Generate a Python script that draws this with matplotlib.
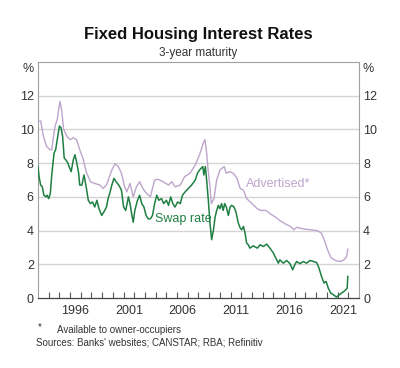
import matplotlib
matplotlib.use("Agg")
import matplotlib.pyplot as plt
import numpy as np

plt.rcParams['font.family'] = ['Liberation Sans', 'DejaVu Sans']

# Advertised 3-year fixed housing rate (%), decimal years
adv_years = [1993.0, 1993.25, 1993.5, 1993.8, 1994.1, 1994.3, 1994.4, 1994.6, 1994.8, 1995.05,
             1995.2, 1995.4, 1995.7, 1996.0, 1996.3, 1996.6, 1996.9, 1997.2, 1997.5, 1997.9,
             1998.3, 1998.8, 1999.1, 1999.4, 1999.9, 2000.2, 2000.5, 2000.8, 2001.1, 2001.3,
             2001.6, 2001.9, 2002.2, 2002.5, 2002.8, 2003.15, 2003.5, 2003.9, 2004.2, 2004.7,
             2005.2, 2005.5, 2005.8, 2006.3, 2006.7, 2007.2, 2007.7, 2008.1, 2008.45, 2008.6,
             2008.76, 2008.9, 2009.07, 2009.2, 2009.45, 2009.7, 2010.0, 2010.4, 2010.6, 2010.9,
             2011.25, 2011.6, 2011.9, 2012.2, 2012.5, 2013.0, 2013.5, 2013.8, 2014.3, 2014.7,
             2015.2, 2015.6, 2016.1, 2016.6, 2016.9, 2017.2, 2017.8, 2018.5, 2019.1, 2019.5,
             2019.8, 2020.1, 2020.4, 2020.9, 2021.3, 2021.6, 2021.85, 2021.95]
adv_values = [10.5, 10.5, 9.6, 9.0, 8.8, 8.8, 9.4, 10.2, 10.6, 11.66,
              11.2, 10.0, 9.6, 9.4, 9.5, 9.4, 8.8, 8.3, 7.5, 6.9,
              6.8, 6.7, 6.5, 6.7, 7.6, 7.96, 7.8, 7.4, 6.6, 6.3,
              6.8, 6.0, 6.6, 6.9, 6.5, 6.2, 6.0, 7.0, 7.05, 6.9,
              6.7, 6.9, 6.6, 6.7, 7.2, 7.4, 7.9, 8.5, 9.2, 9.4,
              8.6, 7.6, 6.6, 5.6, 5.9, 7.0, 7.6, 7.8, 7.4, 7.5,
              7.4, 7.1, 6.5, 6.4, 5.9, 5.6, 5.3, 5.2, 5.2, 5.0,
              4.8, 4.6, 4.4, 4.25, 4.05, 4.2, 4.1, 4.05, 4.0, 3.85,
              3.36, 2.8, 2.37, 2.2, 2.17, 2.27, 2.47, 2.9]

# 3-year swap rate (%)
swap_years = [1993.0, 1993.1, 1993.25, 1993.4, 1993.55, 1993.75, 1993.85, 1994.0, 1994.15, 1994.3,
              1994.5, 1994.65, 1994.8, 1995.0, 1995.15, 1995.3, 1995.45, 1995.6, 1995.8, 1995.9,
              1996.1, 1996.3, 1996.45, 1996.6, 1996.8, 1996.9, 1997.1, 1997.3, 1997.5, 1997.7,
              1997.9, 1998.1, 1998.3, 1998.5, 1998.7, 1998.95, 1999.15, 1999.4, 1999.55, 1999.7,
              1999.9, 2000.1, 2000.3, 2000.55, 2000.8, 2001.0, 2001.2, 2001.45, 2001.6, 2001.75,
              2001.9, 2002.05, 2002.3, 2002.5, 2002.7, 2002.9, 2003.1, 2003.3, 2003.5, 2003.7,
              2003.9, 2004.1, 2004.3, 2004.55, 2004.75, 2005.0, 2005.2, 2005.4, 2005.6, 2005.8,
              2006.05, 2006.3, 2006.5, 2006.75, 2007.05, 2007.35, 2007.7, 2007.9, 2008.1, 2008.4,
              2008.5, 2008.64, 2008.76, 2008.92, 2009.07, 2009.23, 2009.4, 2009.55, 2009.7, 2009.85,
              2010.0, 2010.16, 2010.3, 2010.45, 2010.6, 2010.79, 2010.95, 2011.1, 2011.32, 2011.5,
              2011.72, 2011.9, 2012.03, 2012.2, 2012.35, 2012.5, 2012.66, 2012.8, 2013.12, 2013.5,
              2013.75, 2014.06, 2014.37, 2014.68, 2015.0, 2015.3, 2015.46, 2015.6, 2015.93, 2016.24,
              2016.55, 2016.8, 2017.0, 2017.17, 2017.48, 2017.8, 2018.1, 2018.42, 2018.73, 2019.04,
              2019.26, 2019.5, 2019.73, 2019.92, 2020.13, 2020.35, 2020.6, 2020.9, 2021.16, 2021.38,
              2021.6, 2021.78, 2021.9, 2021.95]
swap_values = [7.8, 7.2, 6.7, 6.6, 6.1, 6.0, 6.1, 5.9, 6.2, 7.4,
               8.6, 8.8, 9.4, 10.2, 10.1, 9.6, 8.3, 8.2, 8.0, 7.8,
               7.5, 8.2, 8.5, 8.1, 7.4, 6.7, 6.7, 7.3, 6.6, 5.8,
               5.6, 5.7, 5.4, 5.8, 5.3, 4.9, 5.1, 5.4, 5.9, 6.2,
               6.7, 7.1, 6.9, 6.7, 6.4, 5.4, 5.2, 6.0, 5.6, 5.0,
               4.5, 5.2, 5.8, 6.1, 5.6, 5.4, 4.9, 4.7, 4.7, 4.9,
               5.6, 6.1, 5.8, 5.9, 5.6, 5.8, 5.5, 6.0, 5.6, 5.4,
               5.7, 5.6, 6.1, 6.3, 6.5, 6.7, 7.0, 7.4, 7.6, 7.8,
               7.3, 7.8, 7.0, 5.8, 4.45, 3.46, 4.05, 4.8, 5.2, 5.5,
               5.3, 5.6, 5.2, 5.6, 5.4, 4.9, 5.4, 5.5, 5.4, 5.1,
               4.45, 4.15, 4.05, 4.25, 3.85, 3.26, 3.16, 2.96, 3.1, 2.96,
               3.16, 3.06, 3.2, 2.96, 2.67, 2.27, 2.07, 2.27, 2.07, 2.23,
               2.04, 1.68, 1.98, 2.17, 2.04, 2.17, 2.07, 2.23, 2.17, 2.11,
               1.78, 1.28, 0.89, 0.99, 0.59, 0.30, 0.2, 0.06, 0.2, 0.3,
               0.4, 0.5, 0.6, 1.28]

year_labels = ['1996', '2001', '2006', '2011', '2016', '2021']
y_ticks = [0, 2, 4, 6, 8, 10, 12]

adv_color = '#bda5cc'
swap_color = '#1f7f42'
grid_color = '#d4d4d4'
frame_color = '#a0a0a0'
text_color = '#333333'

fig = plt.figure(figsize=(4.0, 3.68), dpi=100)
ax = fig.add_axes([0.095, 0.19, 0.8025, 0.6415])

ax.plot(adv_years, adv_values, color=adv_color, lw=1.0, zorder=3)
ax.plot(swap_years, swap_values, color=swap_color, lw=1.1, zorder=4)

ax.set_xlim(1993, 2023)
ax.set_ylim(0, 14)

# grid
for v in y_ticks[1:]:
    ax.axhline(v, color=grid_color, lw=1.0, zorder=1)

# x ticks: marks at each year boundary, labels at mid-year
ax.set_xticks(np.arange(1994, 2023))
ax.tick_params(axis='x', which='major', direction='in', length=4, width=0.8,
               color='#555555', labelbottom=False)
ax.set_xticks([int(l) + 0.5 for l in year_labels], minor=True)
ax.set_xticklabels(year_labels, minor=True)
ax.tick_params(axis='x', which='minor', length=0, pad=5, labelsize=9, labelcolor=text_color)

ax.set_yticks(y_ticks)
ax.set_yticklabels([str(v) for v in y_ticks])
ax.tick_params(axis='y', length=0, labelsize=9, labelcolor=text_color, pad=3,
               left=True, right=True, labelleft=True, labelright=True)

for s in ['left', 'right', 'top']:
    ax.spines[s].set_color(frame_color)
    ax.spines[s].set_linewidth(0.8)
ax.spines['bottom'].set_color('#444444')
ax.spines['bottom'].set_linewidth(0.9)

ax.text(-0.012, 0.995, '%', transform=ax.transAxes, ha='right', va='top',
        fontsize=9, color=text_color)
ax.text(1.012, 0.995, '%', transform=ax.transAxes, ha='left', va='top',
        fontsize=9, color=text_color)

ax.text(2015.4, 6.75, 'Advertised*', color=adv_color, fontsize=9, ha='center', va='center')
ax.text(2003.9, 4.7, 'Swap rate', color=swap_color, fontsize=9, ha='left', va='center')

fig.text(0.495, 0.905, 'Fixed Housing Interest Rates', ha='center', va='center',
         fontsize=12, fontweight='bold', color='#111111')
fig.text(0.495, 0.857, '3-year maturity', ha='center', va='center',
         fontsize=8.5, color=text_color)

fig.text(0.095, 0.111, '*', ha='left', va='center', fontsize=7, color=text_color)
fig.text(0.142, 0.103, 'Available to owner-occupiers', ha='left', va='center',
         fontsize=7, color=text_color)
fig.text(0.09, 0.068, "Sources: Banks' websites; CANSTAR; RBA; Refinitiv", ha='left',
         va='center', fontsize=7, color=text_color)

fig.savefig('out.png', dpi=100, facecolor='white')
